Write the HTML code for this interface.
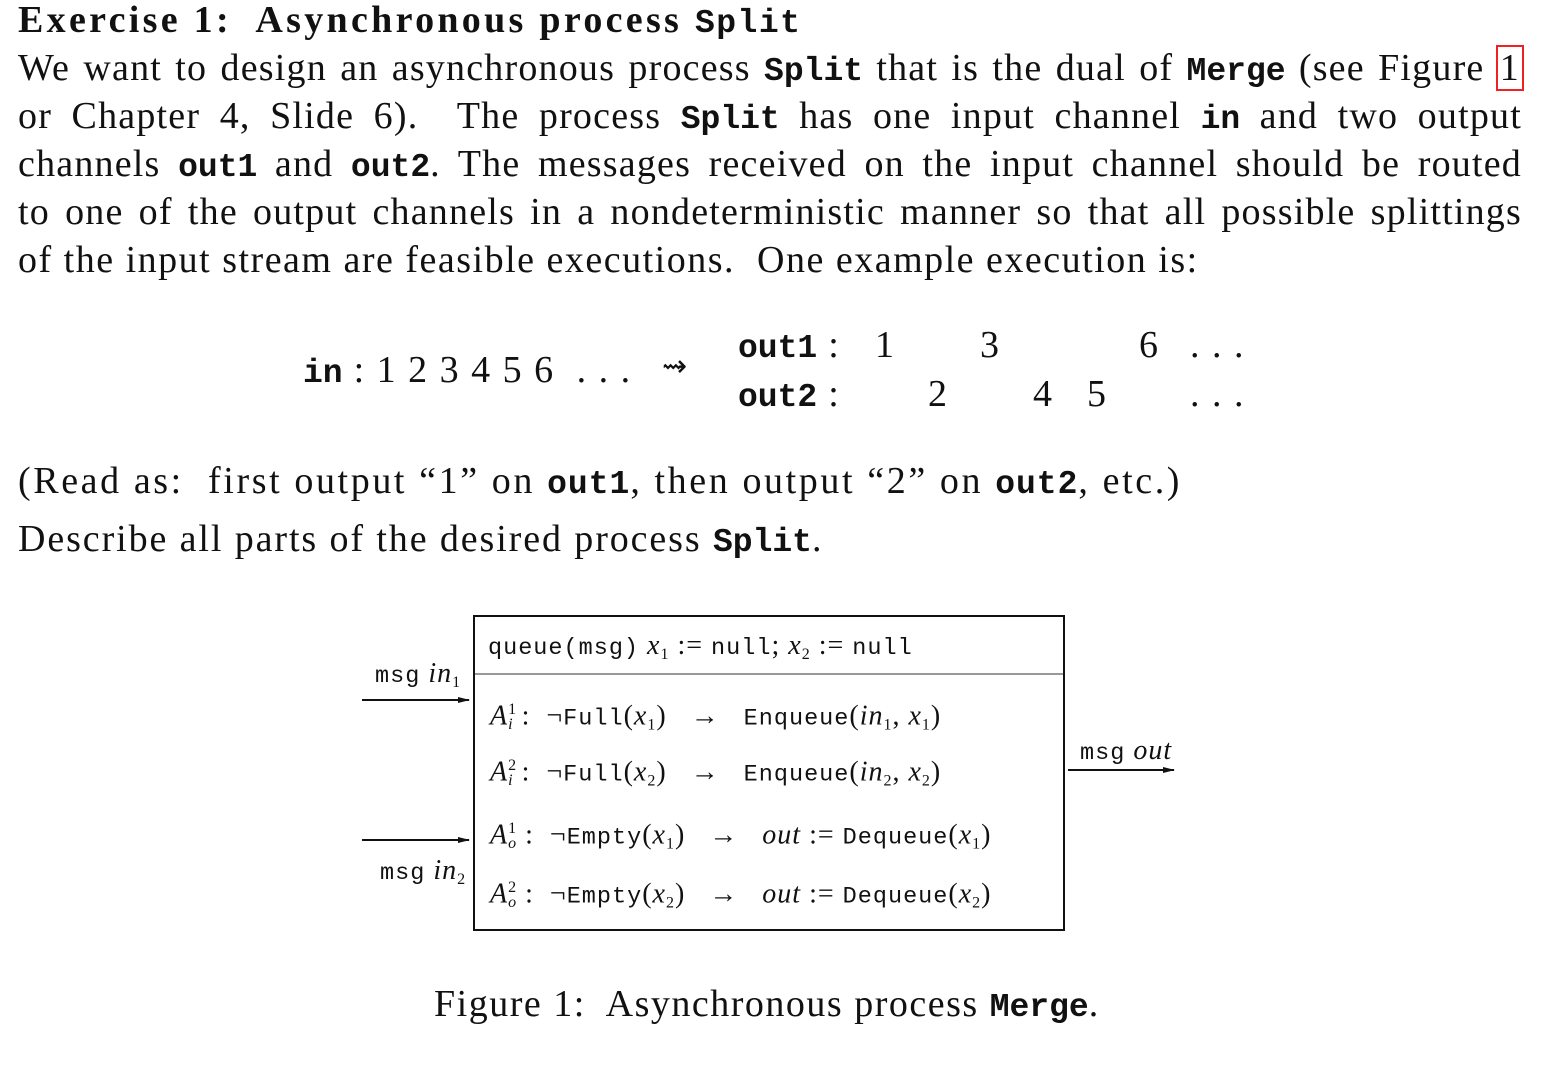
<!DOCTYPE html>
<html><head><meta charset="utf-8"><style>
body{margin:0;width:1548px;height:1072px;background:#fff;position:relative;overflow:hidden;font-family:"Liberation Serif",serif;color:#111}
.a{position:absolute;white-space:nowrap;line-height:1}
.t{font-size:38px;letter-spacing:1.5px}
.l{position:absolute;left:18px;width:1504px;font-size:38px;letter-spacing:1.2px;line-height:1;text-align:justify;text-align-last:justify;white-space:nowrap}
tt,.m{font-family:"Liberation Mono",monospace;font-weight:bold;font-size:33px;letter-spacing:0}
.f{font-size:28px;letter-spacing:1px}
.f tt{font-size:23.5px;font-weight:normal;letter-spacing:1px}
i{font-style:italic}
sub{font-size:16px;vertical-align:-5px}
sup{font-size:16px}
</style></head><body>
<div class="a t" style="left:18px;top:1px;font-weight:bold;letter-spacing:3.3px">Exercise 1:&nbsp; Asynchronous process <tt style="letter-spacing:1.5px">Split</tt></div>
<div class="l" style="top:49px">We want to design an asynchronous process <tt>Split</tt> that is the dual of <tt>Merge</tt> (see Figure <span style="outline:2px solid #e22;padding:0 2px">1</span></div>
<div class="l" style="top:97px">or Chapter 4, Slide 6).&nbsp; The process <tt>Split</tt> has one input channel <tt>in</tt> and two output</div>
<div class="l" style="top:145px">channels <tt>out1</tt> and <tt>out2</tt>. The messages received on the input channel should be routed</div>
<div class="l" style="top:193px">to one of the output channels in a nondeterministic manner so that all possible splittings</div>
<div class="a t" style="left:18px;top:241px">of the input stream are feasible executions.&nbsp; One example execution is:</div>

<div class="a t" style="left:303px;top:351px"><tt>in</tt> : 1 2 3 4 5 6 &nbsp;. . .</div>
<div class="a" style="left:662px;top:352px;font-size:30px">⇝</div>
<div class="a t" style="left:738px;top:326px"><tt>out1</tt> :</div>
<div class="a t" style="left:738px;top:375px"><tt>out2</tt> :</div>
<div class="a t" style="left:875px;top:326px">1</div>
<div class="a t" style="left:980px;top:326px">3</div>
<div class="a t" style="left:1139px;top:326px">6</div>
<div class="a t" style="left:1190px;top:326px">. . .</div>
<div class="a t" style="left:928px;top:375px">2</div>
<div class="a t" style="left:1033px;top:375px">4</div>
<div class="a t" style="left:1087px;top:375px">5</div>
<div class="a t" style="left:1190px;top:375px">. . .</div>

<div class="a t" style="left:18px;top:462px;letter-spacing:2.6px">(Read as:&nbsp; first output “1” on <tt style="letter-spacing:1px">out1</tt>, then output “2” on <tt style="letter-spacing:1px">out2</tt>, etc.)</div>
<div class="a t" style="left:18px;top:520px;letter-spacing:1.9px">Describe all parts of the desired process <tt>Split</tt>.</div>

<div style="position:absolute;left:473px;top:615px;width:588px;height:312px;border:2px solid #111"></div>
<div style="position:absolute;left:475px;top:673px;width:588px;height:2px;background:#999"></div>
<svg style="position:absolute;left:0;top:0" width="1548" height="1072">
<defs><marker id="ar" markerWidth="12" markerHeight="8" refX="11" refY="4" orient="auto" markerUnits="userSpaceOnUse"><path d="M0,1 L12,4 L0,7z" fill="#111"/></marker></defs>
<line x1="362" y1="700" x2="469" y2="700" stroke="#111" stroke-width="2" marker-end="url(#ar)"/>
<line x1="362" y1="840" x2="469" y2="840" stroke="#111" stroke-width="2" marker-end="url(#ar)"/>
<line x1="1068" y1="770" x2="1174" y2="770" stroke="#111" stroke-width="2" marker-end="url(#ar)"/>
</svg>
<div class="a f" style="left:488px;top:632px"><tt>queue(msg)</tt> <i>x</i><sub>1</sub> := <tt>null</tt>; <i>x</i><sub>2</sub> := <tt>null</tt></div>
<div class="a f" style="left:375px;top:660px"><tt>msg</tt> <i>in</i><sub>1</sub></div>
<div class="a f" style="left:380px;top:857px"><tt>msg</tt> <i>in</i><sub>2</sub></div>
<div class="a f" style="left:1080px;top:737px"><tt>msg</tt> <i>out</i></div>
<div class="a f" style="left:490px;top:702px"><i>A</i><sup>1</sup><sub style="margin-left:-9px"><i>i</i></sub> :&nbsp; ¬<tt>Full</tt>(<i>x</i><sub>1</sub>) &nbsp; → &nbsp; <tt>Enqueue</tt>(<i>in</i><sub>1</sub>, <i>x</i><sub>1</sub>)</div>
<div class="a f" style="left:490px;top:758px"><i>A</i><sup>2</sup><sub style="margin-left:-9px"><i>i</i></sub> :&nbsp; ¬<tt>Full</tt>(<i>x</i><sub>2</sub>) &nbsp; → &nbsp; <tt>Enqueue</tt>(<i>in</i><sub>2</sub>, <i>x</i><sub>2</sub>)</div>
<div class="a f" style="left:490px;top:821px"><i>A</i><sup>1</sup><sub style="margin-left:-9px"><i>o</i></sub> :&nbsp; ¬<tt>Empty</tt>(<i>x</i><sub>1</sub>) &nbsp; → &nbsp; <i>out</i> := <tt>Dequeue</tt>(<i>x</i><sub>1</sub>)</div>
<div class="a f" style="left:490px;top:880px"><i>A</i><sup>2</sup><sub style="margin-left:-9px"><i>o</i></sub> :&nbsp; ¬<tt>Empty</tt>(<i>x</i><sub>2</sub>) &nbsp; → &nbsp; <i>out</i> := <tt>Dequeue</tt>(<i>x</i><sub>2</sub>)</div>

<div class="a t" style="left:434px;top:985px">Figure 1:&nbsp; Asynchronous process <tt>Merge</tt>.</div>
</body></html>
